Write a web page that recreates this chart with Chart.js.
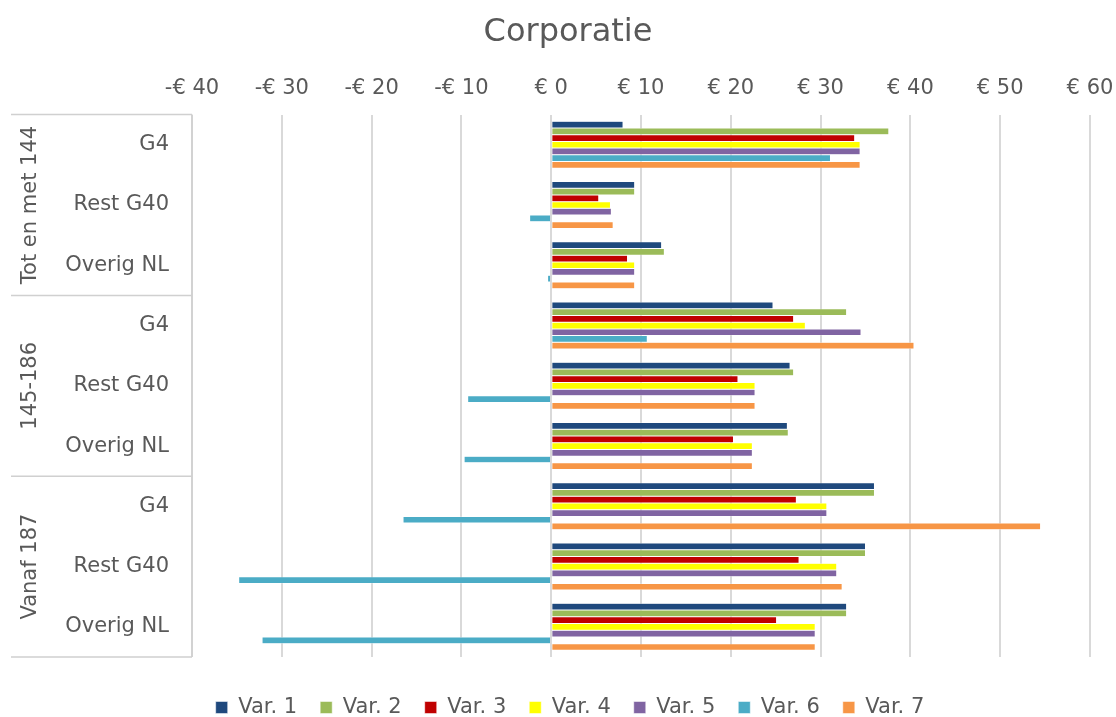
<!DOCTYPE html>
<html>
<head>
<meta charset="utf-8">
<script src="https://cdn.jsdelivr.net/npm/chart.js@4"></script>
<style>
  html, body { margin: 0; padding: 0; background: #fff; }
  #wrap { width: 1116px; height: 717px; }
</style>
</head>
<body>
<div id="wrap"><canvas id="myChart"></canvas></div>
<script>
var categories = ['G4', 'Rest G40', 'Overig NL', 'G4', 'Rest G40', 'Overig NL', 'G4', 'Rest G40', 'Overig NL'];
var groups = ['Tot en met 144', '145-186', 'Vanaf 187'];
var seriesNames = ['Var. 1', 'Var. 2', 'Var. 3', 'Var. 4', 'Var. 5', 'Var. 6', 'Var. 7'];

var var1 = [8.0, 9.3, 12.3, 24.7, 26.6, 26.3, 36.0, 35.0, 32.9];
var var2 = [37.6, 9.3, 12.6, 32.9, 27.0, 26.4, 36.0, 35.0, 32.9];
var var3 = [33.8, 5.3, 8.5, 27.0, 20.8, 20.3, 27.3, 27.6, 25.1];
var var4 = [34.4, 6.6, 9.3, 28.3, 22.7, 22.4, 30.7, 31.8, 29.4];
var var5 = [34.4, 6.7, 9.3, 34.5, 22.7, 22.4, 30.7, 31.8, 29.4];
var var6 = [31.1, -2.4, -0.4, 10.7, -9.3, -9.7, -16.5, -34.8, -32.2];
var var7 = [34.4, 6.9, 9.3, 40.4, 22.7, 22.4, 54.5, 32.4, 29.4];

var seriesValues = [var1, var2, var3, var4, var5, var6, var7];
var colors = ['#1F497D', '#9BBB59', '#C00000', '#FFFF00', '#8064A2', '#4BACC6', '#F79646'];

var textColor = '#595959';
var fontFam = '"DejaVu Sans", sans-serif';

var datasets = [];
for (var i = 0; i < seriesValues.length; i++) {
    datasets.push({
        label: seriesNames[i],
        data: seriesValues[i],
        backgroundColor: colors[i],
        borderColor: '#ffffff',
        borderWidth: 0.5,
        categoryPercentage: 0.78,
        barPercentage: 1.0
    });
}

// group labels and the box lines on the left, plus a few nudges of title / legend
var groupPlugin = {
    id: 'groupLabels',
    afterLayout: function(chart) {
        var lg = chart.legend;
        lg.top += 17; lg.bottom += 17;
        lg.left += 25; lg.right += 25;
        var tb = chart.titleBlock;
        tb.left += 23; tb.right += 23;
    },
    afterDraw: function(chart) {
        var ctx = chart.ctx;
        var y = chart.scales.y;
        var area = chart.chartArea;
        var step = (area.bottom - area.top) / categories.length;
        ctx.save();
        ctx.strokeStyle = '#d0d0d0';
        ctx.lineWidth = 1.5;
        ctx.beginPath();
        ctx.moveTo(area.left, area.top);
        ctx.lineTo(area.left, area.bottom);
        for (var g = 0; g <= groups.length; g++) {
            var yy = area.top + g * 3 * step;
            ctx.moveTo(11, yy);
            ctx.lineTo(area.left, yy);
        }
        ctx.stroke();
        ctx.fillStyle = textColor;
        ctx.font = '21px ' + fontFam;
        ctx.textAlign = 'center';
        ctx.textBaseline = 'middle';
        for (var k = 0; k < groups.length; k++) {
            var cy = (y.getPixelForValue(k * 3) + y.getPixelForValue(k * 3 + 2)) / 2;
            ctx.save();
            ctx.translate(31, cy);
            ctx.rotate(-Math.PI / 2);
            ctx.fillText(groups[k], 0, 0);
            ctx.restore();
        }
        ctx.restore();
    }
};

var ctx = document.getElementById('myChart');
var myChart = new Chart(ctx, {
    type: 'bar',
    data: {
        labels: categories,
        datasets: datasets
    },
    options: {
        indexAxis: 'y',
        responsive: true,
        maintainAspectRatio: false,
        animation: false,
        layout: { padding: { left: 0, right: 26, top: 8, bottom: 6 } },
        scales: {
            x: {
                position: 'top',
                min: -40,
                max: 60,
                afterFit: function(scale) {
                    scale.paddingLeft = 0;
                    scale.paddingRight = 0;
                },
                ticks: {
                    stepSize: 10,
                    color: textColor,
                    font: { size: 21, family: fontFam },
                    padding: 13,
                    callback: function(v) {
                        return v < 0 ? '-€ ' + Math.abs(v) : '€ ' + v;
                    }
                },
                grid: { color: '#d9d9d9', lineWidth: 2, drawTicks: false },
                border: { display: false }
            },
            y: {
                afterFit: function(scale) { scale.width = 192; },
                ticks: {
                    color: textColor,
                    font: { size: 21, family: fontFam },
                    padding: 23
                },
                grid: { display: false, drawTicks: false },
                border: { display: false }
            }
        },
        plugins: {
            title: {
                display: true,
                text: 'Corporatie',
                color: textColor,
                font: { size: 32, family: fontFam, weight: 'normal' },
                padding: { top: 5, bottom: 12 }
            },
            legend: {
                position: 'bottom',
                labels: {
                    color: textColor,
                    font: { size: 21, family: fontFam },
                    boxWidth: 12,
                    boxHeight: 12,
                    padding: 23
                }
            },
            tooltip: { enabled: false }
        }
    },
    plugins: [groupPlugin]
});
</script>
</body>
</html>
